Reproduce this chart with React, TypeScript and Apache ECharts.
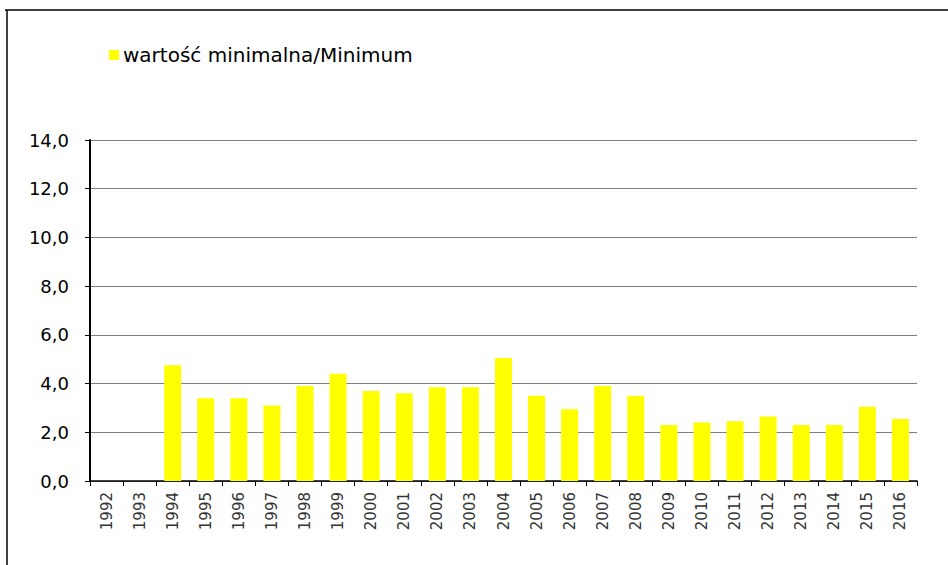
import React, { useEffect, useRef } from "react";
import * as echarts from "echarts";

const years = [
  "1992", "1993", "1994", "1995", "1996", "1997", "1998", "1999", "2000",
  "2001", "2002", "2003", "2004", "2005", "2006", "2007", "2008", "2009",
  "2010", "2011", "2012", "2013", "2014", "2015", "2016",
];
const minimumValues: (number | null)[] = [
  null, null, 4.75, 3.4, 3.4, 3.1, 3.9, 4.4, 3.7, 3.6, 3.85, 3.85, 5.05,
  3.5, 2.95, 3.9, 3.5, 2.3, 2.4, 2.45, 2.65, 2.3, 2.3, 3.05, 2.55,
];
const seriesName = "wartość minimalna/Minimum";

export default function App() {
  const ref = useRef<HTMLDivElement>(null);
  useEffect(() => {
    if (!ref.current) return;
    const chart = echarts.init(ref.current, null, { renderer: "svg" });
    chart.setOption({
      animation: false,
      backgroundColor: "#ffffff",
      textStyle: { fontFamily: "DejaVu Sans" },
      legend: {
        left: 104,
        top: 40,
        itemWidth: 10,
        itemHeight: 10,
        itemGap: 6,
        icon: "rect",
        textStyle: { fontSize: 20, color: "#000", fontFamily: "DejaVu Sans", padding: [0, 0, 0, -1] },
        data: [seriesName],
      },
      grid: { left: 90, right: 31, top: 140, bottom: 84 },
      xAxis: {
        type: "category",
        data: years,
        axisLine: { lineStyle: { color: "#000", width: 1.5 } },
        axisTick: { show: true, length: 5, interval: 0, lineStyle: { color: "#000" } },
        axisLabel: {
          interval: 0,
          rotate: 90,
          margin: 11,
          fontSize: 15,
          color: "#333",
          fontFamily: "DejaVu Sans",
        },
      },
      yAxis: {
        type: "value",
        min: 0,
        max: 14,
        interval: 2,
        axisLine: { show: true, lineStyle: { color: "#000", width: 2 } },
        axisTick: { show: true, length: 5, lineStyle: { color: "#000" } },
        axisLabel: {
          fontSize: 18,
          color: "#000",
          margin: 21,
          fontFamily: "DejaVu Sans",
          formatter: (v: number) => v.toFixed(1).replace(".", ","),
        },
        splitLine: { show: true, lineStyle: { color: "#808080", width: 1 } },
      },
      series: [
        {
          name: seriesName,
          type: "bar",
          data: minimumValues,
          barWidth: 17,
          itemStyle: { color: "#ffff00" },
        },
      ],
      graphic: [
        { type: "line", shape: { x1: 5, y1: 10, x2: 948, y2: 10 }, style: { stroke: "#000", lineWidth: 1.5 } },
        { type: "line", shape: { x1: 7, y1: 10, x2: 7, y2: 565 }, style: { stroke: "#000", lineWidth: 1.5 } },
      ],
    });
    return () => chart.dispose();
  }, []);
  return (
    <div
      ref={ref}
      style={{ position: "fixed", left: 0, top: 0, width: 948, height: 565 }}
    />
  );
}
